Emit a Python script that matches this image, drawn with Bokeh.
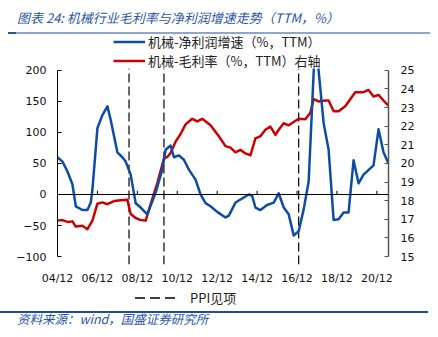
from bokeh.plotting import figure
from bokeh.models import (Range1d, LinearAxis, FixedTicker, Span, Legend,
                          LegendItem, ColumnDataSource, Div, BoxAnnotation)
from bokeh.layouts import column
from bokeh.embed import file_html
from bokeh.resources import INLINE

# ---------------- data ----------------
profit_dates = ["2004-12", "2005-03", "2005-06", "2005-09", "2005-11", "2006-03", "2006-06", "2006-08",
                "2006-09", "2006-12", "2007-03", "2007-06", "2007-08", "2007-12", "2008-03", "2008-05",
                "2008-08", "2008-11", "2009-02", "2009-06", "2009-11", "2010-03", "2010-05", "2010-08",
                "2010-10", "2011-01", "2011-04", "2011-07", "2011-11", "2012-02", "2012-05", "2012-08",
                "2012-12", "2013-05", "2013-07", "2013-11", "2014-02", "2014-07", "2014-09", "2014-11",
                "2015-02", "2015-06", "2015-10", "2016-01", "2016-04", "2016-07", "2016-10", "2017-01",
                "2017-04", "2017-07", "2017-11", "2018-04", "2018-07", "2018-10", "2019-01", "2019-04",
                "2019-07", "2019-10", "2020-01", "2020-04", "2020-10", "2021-01", "2021-04", "2021-07"]
profit_growth = [60, 53, 37, 16, -19, -25, -25, -13,
                 8, 107, 128, 142, 120, 68, 60, 53,
                 32, -14, -21, -32, 3, 40, 72, 79,
                 60, 63, 56, 40, 24, 0, -14, -19,
                 -28, -37, -34, -13, -8, 0, -2, -21,
                 -25, -17, -13, 2, -21, -32, -66, -59,
                 -24, 21, 255, 115, 72, -41, -40, -29,
                 -29, 55, 18, 32, 47, 105, 68, 50]

margin_dates = ["2004-12", "2005-03", "2005-06", "2005-09", "2005-11", "2006-03", "2006-06", "2006-09",
                "2006-12", "2007-03", "2007-06", "2007-10", "2008-02", "2008-06", "2008-08", "2008-11",
                "2009-02", "2009-05", "2009-08", "2009-12", "2010-04", "2010-06", "2010-08", "2010-11",
                "2011-02", "2011-05", "2011-09", "2011-12", "2012-03", "2012-08", "2013-01", "2013-05",
                "2013-08", "2013-11", "2014-02", "2014-05", "2014-08", "2014-11", "2015-02", "2015-05",
                "2015-08", "2015-11", "2016-01", "2016-04", "2016-07", "2016-10", "2017-01", "2017-05",
                "2017-08", "2017-10", "2018-01", "2018-05", "2018-07", "2018-10", "2019-01", "2019-05",
                "2019-11", "2020-04", "2020-07", "2020-10", "2021-01", "2021-04", "2021-07"]
gross_margin = [16.93, 16.96, 16.86, 16.89, 16.61, 16.65, 16.47, 16.93,
                17.84, 17.91, 17.81, 17.98, 18.02, 18.05, 17.28, 17.07,
                16.96, 16.93, 17.81, 18.95, 20.26, 20.35, 20.56, 21.17,
                21.58, 22.10, 22.40, 22.26, 22.40, 22.05, 21.46, 20.93,
                20.85, 20.60, 20.73, 20.54, 20.44, 21.35, 21.46, 21.81,
                21.98, 21.53, 21.81, 22.16, 22.05, 22.23, 22.40, 22.37,
                22.72, 23.46, 23.33, 23.38, 23.38, 22.80, 22.80, 23.07,
                23.83, 23.83, 23.95, 23.60, 23.68, 23.38, 23.10]

ppi_peak_dates = ["2008-07", "2010-04", "2017-01"]

x_tick_labels = ["04/12", "06/12", "08/12", "10/12", "12/12", "14/12", "16/12", "18/12", "20/12"]
left_ticks = [-100, -50, 0, 50, 100, 150, 200]
right_ticks = [15, 16, 17, 18, 19, 20, 21, 22, 23, 24, 25]

title_text = "图表 24:  机械行业毛利率与净利润增速走势（TTM，%）"
source_text = "资料来源：wind，国盛证券研究所"
blue_label = "机械-净利润增速（%，TTM）"
red_label = "机械-毛利率（%，TTM）右轴"
ppi_label = "PPI见项"


def dec(s):
    y, m = s.split("-")
    return int(y) + (int(m) - 1) / 12.0


def tick_dec(lbl):
    yy, mm = lbl.split("/")
    return 2000 + int(yy) + (int(mm) - 1) / 12.0


BLUE = "#0C4DA2"
RED = "#CC0000"
TXTBLUE = "#2B56A6"
CJK = "Noto Sans CJK SC"
NUM = "DejaVu Sans"

W = 438
TOP_H = 34             # title strip (div)
BL, BR, BT, BB = 57, 50, 0, 22
FRAME_H = 231
FIG_H = FRAME_H + BT + BB   # chart (legend + plot + x labels)
FOOT_H = 337 - TOP_H - FIG_H

x0 = dec(profit_dates[0])
x1 = dec(profit_dates[-1])
view_lo, view_hi = -112.8, 257.8   # visible data window of the frame
seg_hi = 203                        # top of the plotting area (dashed lines end here)


def to_right(v):
    return right_ticks[0] + (v - left_ticks[0]) * (right_ticks[-1] - right_ticks[0]) / \
        (left_ticks[-1] - left_ticks[0])


p = figure(width=W, height=FIG_H, output_backend="svg", toolbar_location=None,
           x_range=Range1d(x0, x1), y_range=Range1d(view_lo, view_hi),
           min_border_left=BL, min_border_right=BR, min_border_top=BT, min_border_bottom=BB,
           x_axis_type=None, y_axis_type=None, margin=0)
p.extra_y_ranges = {"right": Range1d(to_right(view_lo), to_right(view_hi))}
p.outline_line_color = None
p.xgrid.visible = False
p.ygrid.visible = False
p.background_fill_color = "white"
p.border_fill_color = "white"

# axes
yl = LinearAxis(ticker=FixedTicker(ticks=left_ticks), bounds=(left_ticks[0], left_ticks[-1]))
yl.axis_line_color = "black"
yl.axis_line_width = 1
yl.major_tick_in = 4
yl.major_tick_out = 0
yl.major_tick_line_color = "black"
yl.minor_tick_line_color = None
yl.major_label_standoff = 11
yl.major_label_text_font = NUM
yl.major_label_text_font_size = "11px"
yl.major_label_text_color = "#111111"
p.add_layout(yl, "left")

yr = LinearAxis(y_range_name="right", ticker=FixedTicker(ticks=right_ticks),
                bounds=(right_ticks[0], right_ticks[-1]))
yr.axis_line_color = "#555555"
yr.axis_line_width = 1.5
yr.major_tick_in = 4
yr.major_tick_out = 0
yr.major_tick_line_color = "#555555"
yr.minor_tick_line_color = None
yr.major_label_standoff = 12
yr.major_label_text_font = NUM
yr.major_label_text_font_size = "11px"
yr.major_label_text_color = "#111111"
p.add_layout(yr, "right")

xt = [tick_dec(l) for l in x_tick_labels]
xa = LinearAxis(ticker=FixedTicker(ticks=xt),
                major_label_overrides={t: l for t, l in zip(xt, x_tick_labels)})
xa.axis_line_color = None
xa.major_tick_line_color = None
xa.major_tick_in = 0
xa.major_tick_out = 0
xa.minor_tick_line_color = None
xa.major_label_standoff = 7
xa.major_label_text_font = NUM
xa.major_label_text_font_size = "11px"
xa.major_label_text_color = "#111111"
p.add_layout(xa, "below")

# zero line and its ticks
p.add_layout(Span(location=0, dimension="width", line_color="black", line_width=1))
zt = ColumnDataSource(dict(x=xt[1:], y0=[0] * (len(xt) - 1), y1=[6] * (len(xt) - 1)))
p.segment(x0="x", x1="x", y0="y0", y1="y1", source=zt, line_color="black", line_width=1)

# PPI peak dashed lines
ppi_x = [dec(d) for d in ppi_peak_dates]
ppi_src = ColumnDataSource(dict(x=ppi_x, y0=[view_lo] * len(ppi_x), y1=[seg_hi] * len(ppi_x)))
r_ppi = p.segment(x0="x", x1="x", y0="y0", y1="y1", source=ppi_src, line_color="black",
                  line_width=1.2, line_dash="9 4")

# series
r_red = p.line([dec(d) for d in margin_dates], gross_margin, y_range_name="right",
               line_color=RED, line_width=2.5, line_join="round")
r_blue = p.line([dec(d) for d in profit_dates], profit_growth,
                line_color=BLUE, line_width=2.5, line_join="round")

# the plotting area ends at seg_hi: hide what lies above it (the legend strip)
p.add_layout(BoxAnnotation(bottom=seg_hi, fill_color="white", fill_alpha=1, line_alpha=0))

leg = Legend(items=[LegendItem(label=blue_label, renderers=[r_blue]),
                    LegendItem(label=red_label, renderers=[r_red])],
             location=(56, 194), orientation="vertical", spacing=-3, padding=0, margin=0,
             glyph_width=32, glyph_height=17, label_height=17, label_standoff=3,
             border_line_alpha=0, background_fill_alpha=0,
             label_text_font=CJK, label_text_font_size="13px", label_text_color="#222222")
p.add_layout(leg)

# title strip and source strip
title_div = Div(width=W, height=TOP_H, margin=0, text=(
    '<div style="position:relative;width:%dpx;height:%dpx;overflow:hidden;background:white;">'
    '<div style="position:absolute;left:17px;top:10px;white-space:nowrap;font-family:\'%s\';'
    'font-size:13px;line-height:16px;font-style:italic;color:%s;">%s</div>'
    '<div style="position:absolute;left:8px;top:32px;width:422px;height:1.5px;background:#8FA6CF;"></div>'
    '<div style="position:absolute;left:8px;top:31.5px;width:8px;height:2.5px;background:#2F5597;"></div>'
    '</div>') % (W, TOP_H, CJK, TXTBLUE, title_text))

foot_top = TOP_H + FIG_H   # canvas y where the footer strip starts
foot_div = Div(width=W, height=FOOT_H, margin=0, text=(
    '<div style="position:relative;width:%dpx;height:%dpx;overflow:hidden;background:white;">'
    '<svg style="position:absolute;left:135px;top:%.1fpx;" width="40" height="4">'
    '<line x1="0" y1="2" x2="40" y2="2" stroke="black" stroke-width="1.3" stroke-dasharray="10 5"/></svg>'
    '<div style="position:absolute;left:190px;top:%.1fpx;white-space:nowrap;font-family:\'%s\';'
    'font-size:13px;line-height:16px;color:#222222;">%s</div>'
    '<div style="position:absolute;left:0px;top:%.1fpx;width:428px;height:1.5px;background:#1F4E9A;"></div>'
    '<div style="position:absolute;left:17px;top:%.1fpx;white-space:nowrap;font-family:\'%s\';'
    'font-size:12.5px;line-height:15px;font-style:italic;color:%s;">%s</div>'
    '</div>') % (W, FOOT_H, 296 - foot_top, 289.5 - foot_top, CJK, ppi_label,
                 311.3 - foot_top, 310.5 - foot_top, CJK, TXTBLUE, source_text))

layout = column(title_div, p, foot_div, spacing=0, margin=0)

open("out.html", "w").write(file_html(layout, INLINE))
